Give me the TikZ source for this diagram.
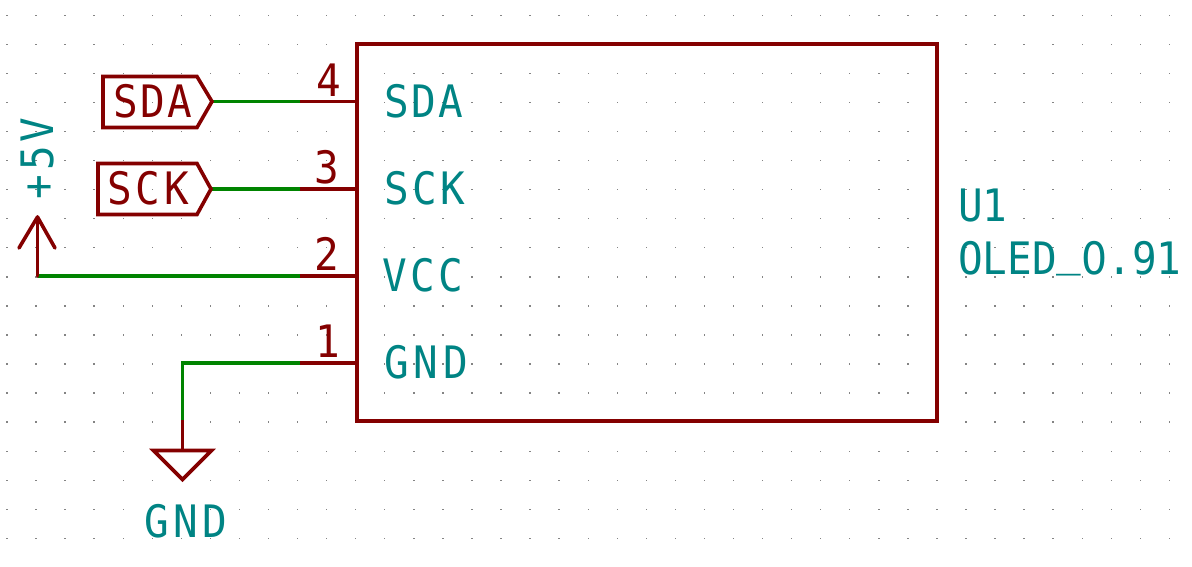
\documentclass[tikz,border=0pt]{standalone}
\usepackage{fontspec}
\usepackage{graphicx}
\setmainfont{DejaVu Sans Mono}
\newfontfamily\plainzero{DejaVu Sans}
\definecolor{kired}{HTML}{840000}
\definecolor{kiteal}{HTML}{008484}
\definecolor{kigreen}{HTML}{008400}
\definecolor{kigrid}{HTML}{848484}
\newcommand{\tall}[1]{\scalebox{1}[1.09]{#1}}
\newcommand{\spc}[2]{\tall{\addfontfeature{LetterSpace=#1}#2}}
\tikzset{
  symline/.style={draw=kired,line width=3.6pt,line join=miter},
  wireline/.style={draw=kigreen,line width=3.6pt},
  txt/.style={inner sep=0pt,outer sep=0pt,anchor=base west,font=\fontsize{41}{41}\selectfont},
  pintxt/.style={txt,text=kiteal},
  numtxt/.style={txt,text=kired}
}
\begin{document}
\begin{tikzpicture}[x=1pt,y=-1pt]
\useasboundingbox (0,0) rectangle (1192,566);
% grid
\foreach \i in {0,...,40}\foreach \j in {0,...,18}{
  \fill[kigrid] ({7+29.06*\i-0.7},{15.3+29.06*\j-0.7}) rectangle ++(1.4,1.4);
}
% component body
\node[symline,rectangle,minimum width=580pt,minimum height=377pt,inner sep=0pt,outer sep=0pt,anchor=north west] (body) at (357,44) {};
% pin ends
\coordinate (p4a) at (357,101.5); \coordinate (p4b) at (300,101.5);
\coordinate (p3a) at (357,189); \coordinate (p3b) at (300,189);
\coordinate (p2a) at (357,276); \coordinate (p2b) at (300,276);
\coordinate (p1a) at (357,363); \coordinate (p1b) at (300,363);
% labels as shapes
\coordinate (sdatip) at (212,101.5);
\coordinate (scktip) at (211,189);
\coordinate (pwr) at (37.5,276);
\coordinate (pwrtip) at (37.5,217);
\coordinate (gcorner) at (182.5,363);
\coordinate (gwire) at (182.5,420);
\coordinate (gtop) at (182.5,450);
% wires
\draw[wireline] (p4b) -- (sdatip);
\draw[wireline] (p3b) -- (scktip);
\draw[wireline] (p2b) -- (pwr);
\draw[wireline,line join=miter] (p1b) -- (gcorner) -- (gwire);
% pins
\draw[symline] (p4a) -- (p4b);
\draw[symline] (p3a) -- (p3b);
\draw[symline] (p2a) -- (p2b);
\draw[symline] (p1a) -- (p1b);
% hierarchical labels
\draw[symline] (sdatip) -- (197,76.5) -- (103,76.5) -- (103,127.5) -- (197,127.5) -- cycle;
\draw[symline] (scktip) -- (197,163.5) -- (98,163.5) -- (98,214.5) -- (197,214.5) -- cycle;
% power symbols
\draw[symline,line cap=round] (pwr) -- (pwrtip);
\draw[symline,line cap=round,line join=round] (19,248) -- (pwrtip) -- (55,248);
\draw[symline] (gwire) -- (gtop);
\draw[symline] (153.5,450.5) -- (211.5,450.5) -- (182.5,479.5) -- cycle;
% texts
\node[numtxt] (lsda) at (113,117) {\spc{6}{SDA}};
\node[numtxt] (lsck) at (107,204) {\spc{10}{SCK}};
\node[numtxt] (n4) at (316,96) {\tall{4}};
\node[numtxt] (n3) at (314,183) {\tall{3}};
\node[numtxt] (n2) at (314,270) {\tall{2}};
\node[numtxt] (n1) at (315,357) {\tall{1}};
\node[pintxt] (tsda) at (384,117) {\spc{6}{SDA}};
\node[pintxt] (tsck) at (384,204) {\spc{9}{SCK}};
\node[pintxt] (tvcc) at (382,291) {\spc{9}{VCC}};
\node[pintxt] (tgnd) at (384,378) {\spc{12}{GND}};
\node[pintxt] (tu) at (958,221) {\tall{U1}};
\node[pintxt] (tv) at (958,274) {\tall{OLED\raisebox{8pt}{\_}{\plainzero 0}.91}};
\node[pintxt] (tg) at (144,537) {\spc{11}{GND}};
\node[pintxt,rotate=90] (tp) at (53,199) {\spc{9}{+5V}};
\end{tikzpicture}
\end{document}
